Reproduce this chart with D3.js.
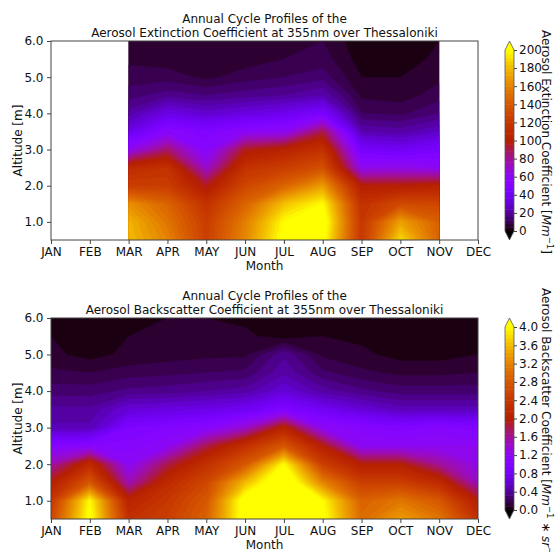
<!DOCTYPE html>
<html>
<head>
<meta charset="utf-8">
<script src="https://cdn.jsdelivr.net/npm/d3@7"></script>
<style>
  body { margin: 0; background: #fff; }
  svg { display: block; font-family: "DejaVu Sans", sans-serif; }
</style>
</head>
<body>
<svg id="chart" width="557" height="552"></svg>
<script>
// months on the x axis, altitude levels (km) of every profile, bottom to top
var months = ["JAN", "FEB", "MAR", "APR", "MAY", "JUN", "JUL", "AUG", "SEP", "OCT", "NOV", "DEC"];
var altitudes = [0.5, 1.0, 1.5, 2.0, 2.5, 3.0, 3.5, 4.0, 4.5, 5.0, 5.5, 6.0];
var altitudeTicks = [1.0, 2.0, 3.0, 4.0, 5.0, 6.0];

// extinction profiles only exist from MAR to NOV (Mm^-1)
var extinctionMonths = ["MAR", "APR", "MAY", "JUN", "JUL", "AUG", "SEP", "OCT", "NOV"];
var extinction = [
  [180, 178, 165, 125, 110, 62, 36, 22, 14, 10, 7, 6],     // MAR
  [160, 154, 146, 124, 116, 86, 56, 36, 18, 10, 6, 6],     // APR
  [126, 124, 116, 96, 70, 54, 50, 30, 16, 7, 4, 4],        // MAY
  [162, 158, 146, 130, 116, 96, 58, 34, 18, 10, 6, 5],     // JUN
  [205, 200, 182, 146, 124, 104, 60, 38, 20, 12, 8, 6],    // JUL
  [205, 210, 200, 170, 136, 116, 90, 46, 24, 14, 10, 8],   // AUG
  [120, 120, 116, 100, 62, 44, 24, 12, 7, 4, 2, 1],        // SEP
  [190, 172, 132, 100, 64, 40, 22, 11, 6, 4, 2, 0],        // OCT
  [146, 144, 130, 104, 60, 46, 28, 16, 10, 7, 5, 4]        // NOV
];
var extinctionTicks = [0, 20, 40, 60, 80, 100, 120, 140, 160, 180, 200];

// backscatter profiles, all twelve months (Mm^-1 sr^-1)
var backscatter = [
  [2.6, 2.4, 2.0, 1.52, 1.08, 0.5, 0.42, 0.28, 0.18, 0.1, 0.08, 0.08],    // JAN
  [4.1, 4.0, 2.8, 2.2, 1.12, 0.5, 0.42, 0.28, 0.16, 0.05, 0.07, 0.06],    // FEB
  [2.3, 2.1, 1.5, 1.2, 1.08, 0.96, 0.64, 0.34, 0.2, 0.1, 0.08, 0.06],     // MAR
  [2.5, 2.4, 2.2, 1.8, 1.2, 1.04, 0.68, 0.36, 0.22, 0.12, 0.1, 0.08],     // APR
  [2.9, 2.8, 2.6, 2.3, 1.8, 1.1, 0.72, 0.4, 0.24, 0.14, 0.1, 0.08],       // MAY
  [4.2, 4.2, 3.6, 2.8, 2.3, 1.4, 0.8, 0.44, 0.26, 0.14, 0.1, 0.06],       // JUN
  [4.4, 4.4, 4.4, 4.0, 2.8, 2.08, 1.0, 0.64, 0.46, 0.38, 0.04, 0.0],      // JUL
  [4.1, 4.0, 3.2, 2.5, 2.0, 1.2, 0.8, 0.44, 0.26, 0.14, 0.08, 0.06],      // AUG
  [3.0, 2.9, 2.5, 2.0, 1.2, 1.08, 0.64, 0.34, 0.18, 0.1, 0.06, 0.05],     // SEP
  [3.4, 3.1, 2.5, 2.0, 1.2, 1.0, 0.52, 0.28, 0.14, 0.05, 0.0, 0.0],       // OCT
  [3.1, 2.8, 2.2, 1.6, 1.2, 1.08, 0.52, 0.28, 0.14, 0.05, 0.0, 0.0],      // NOV
  [2.3, 2.0, 1.44, 1.28, 1.2, 1.0, 0.52, 0.28, 0.16, 0.08, 0.02, 0.0]     // DEC
];
var backscatterTicks = [0.0, 0.4, 0.8, 1.2, 1.6, 2.0, 2.4, 2.8, 3.2, 3.6, 4.0];

var svg = d3.select("#chart");

// matplotlib "gnuplot" colormap
function gnuplot(t) {
  t = Math.max(0, Math.min(1, t));
  var r = Math.sqrt(t), g = t * t * t, b = Math.max(0, Math.sin(2 * Math.PI * t));
  return d3.rgb(r * 255, g * 255, b * 255).formatHex();
}

function bandColor(levels, i) {
  var lo = levels[0], hi = levels[levels.length - 1];
  if (i >= levels.length - 1) return gnuplot(1);
  return gnuplot(((levels[i] + levels[i + 1]) / 2 - lo) / (hi - lo));
}

function drawPanel(p) {
  var g = svg.append("g");
  var x = d3.scaleLinear().domain([0, months.length - 1]).range([p.x0, p.x1]);
  var y = d3.scaleLinear().domain([altitudes[0], altitudes[altitudes.length - 1]]).range([p.y1, p.y0]);

  var nx = p.data.length, ny = altitudes.length;
  var first = months.indexOf(p.firstMonth);
  var values = [];
  for (var j = 0; j < ny; j++)
    for (var i = 0; i < nx; i++) values.push(p.data[i][j]);

  var levels = d3.range(0, p.levelCount).map(function(k) { return k * p.vmax / (p.levelCount - 1); });
  var contours = d3.contours().size([nx, ny]).thresholds(levels)(values);
  var step = altitudes[1] - altitudes[0];
  var proj = d3.geoTransform({
    point: function(px, py) {
      this.stream.point(x(first + px - 0.5), y(altitudes[0] + (py - 0.5) * step));
    }
  });
  var path = d3.geoPath(proj);

  svg.append("clipPath").attr("id", p.id + "-clip")
    .append("rect")
    .attr("x", x(first)).attr("y", p.y0)
    .attr("width", x(first + nx - 1) - x(first)).attr("height", p.y1 - p.y0);

  var field = g.append("g").attr("clip-path", "url(#" + p.id + "-clip)");
  field.append("rect")
    .attr("x", x(first)).attr("y", p.y0)
    .attr("width", x(first + nx - 1) - x(first)).attr("height", p.y1 - p.y0)
    .attr("fill", gnuplot(0));
  field.selectAll("path")
    .data(contours)
    .join("path")
    .attr("d", path)
    .attr("fill", function(d, i) { return bandColor(levels, i); })
    .attr("stroke", function(d, i) { return bandColor(levels, i); })
    .attr("stroke-width", 0.3);

  // axes
  var xAxis = g.append("g")
    .attr("transform", "translate(0," + p.y1 + ")")
    .call(d3.axisBottom(x).tickValues(d3.range(months.length))
      .tickFormat(function(d) { return months[d]; })
      .tickSize(4).tickSizeOuter(0).tickPadding(3.5));
  var yAxis = g.append("g")
    .attr("transform", "translate(" + p.x0 + ",0)")
    .call(d3.axisLeft(y).tickValues(altitudeTicks).tickFormat(d3.format(".1f"))
      .tickSize(4).tickSizeOuter(0).tickPadding(3.5));
  [xAxis, yAxis].forEach(function(a) {
    a.select(".domain").remove();
    a.selectAll("line").attr("stroke", "#444");
    a.selectAll("text").attr("font-size", 12).attr("fill", "#111")
      .attr("font-family", "DejaVu Sans");
  });

  g.append("rect")
    .attr("x", p.x0).attr("y", p.y0)
    .attr("width", p.x1 - p.x0).attr("height", p.y1 - p.y0)
    .attr("fill", "none").attr("stroke", "#444").attr("stroke-width", 1);

  var cx = (p.x0 + p.x1) / 2;
  g.append("text").attr("x", cx).attr("y", p.y0 - 18.5)
    .attr("text-anchor", "middle").attr("font-size", 12).attr("fill", "#111")
    .text(p.title[0]);
  g.append("text").attr("x", cx).attr("y", p.y0 - 4.5)
    .attr("text-anchor", "middle").attr("font-size", 12).attr("fill", "#111")
    .text(p.title[1]);
  g.append("text").attr("x", cx).attr("y", p.y1 + 30)
    .attr("text-anchor", "middle").attr("font-size", 12).attr("fill", "#111")
    .text("Month");
  g.append("text")
    .attr("transform", "translate(21.5," + ((p.y0 + p.y1) / 2) + ") rotate(-90)")
    .attr("text-anchor", "middle").attr("font-size", 12).attr("fill", "#111")
    .text("Altitude [m]");

  drawColorbar(p, levels);
}

function drawColorbar(p, levels) {
  var bx0 = 505, bx1 = 514, ext = 9;
  var g = svg.append("g");
  var cy = d3.scaleLinear().domain([0, p.vmax]).range([p.y1 - ext, p.y0 + ext]);

  g.selectAll("rect.band")
    .data(levels.slice(0, -1))
    .join("rect")
    .attr("class", "band")
    .attr("x", bx0)
    .attr("width", bx1 - bx0)
    .attr("y", function(d, i) { return cy(levels[i + 1]); })
    .attr("height", function(d, i) { return cy(levels[i]) - cy(levels[i + 1]) + 0.5; })
    .attr("fill", function(d, i) { return bandColor(levels, i); });

  var xm = (bx0 + bx1) / 2;
  g.append("path")
    .attr("d", "M" + bx0 + "," + cy(p.vmax) + "L" + xm + "," + p.y0 + "L" + bx1 + "," + cy(p.vmax) + "Z")
    .attr("fill", gnuplot(1));
  g.append("path")
    .attr("d", "M" + bx0 + "," + cy(0) + "L" + xm + "," + p.y1 + "L" + bx1 + "," + cy(0) + "Z")
    .attr("fill", gnuplot(0));
  g.append("path")
    .attr("d", "M" + bx0 + "," + cy(0) + "L" + bx0 + "," + cy(p.vmax) + "L" + xm + "," + p.y0 +
      "L" + bx1 + "," + cy(p.vmax) + "L" + bx1 + "," + cy(0) + "L" + xm + "," + p.y1 + "Z")
    .attr("fill", "none").attr("stroke", "#555").attr("stroke-width", 0.8);

  var axis = g.append("g")
    .attr("transform", "translate(" + bx1 + ",0)")
    .call(d3.axisRight(cy).tickValues(p.ticks).tickFormat(p.tickFormat)
      .tickSize(3).tickSizeOuter(0).tickPadding(2));
  axis.select(".domain").remove();
  axis.selectAll("line").attr("stroke", "#444");
  axis.selectAll("text").attr("font-size", 12).attr("fill", "#111")
    .attr("font-family", "DejaVu Sans");

  var label = g.append("text")
    .attr("transform", "translate(541.5," + p.labelTop + ") rotate(90)")
    .attr("font-size", 12).attr("fill", "#111");
  p.label.forEach(function(part) {
    var t = label.append("tspan").text(part.text);
    if (part.italic) t.attr("font-style", "italic");
    if (part.sup) t.attr("font-size", 8.5).attr("dy", -5);
    if (part.down) t.attr("dy", 5);
  });
}

drawPanel({
  id: "ext",
  x0: 51, x1: 478, y0: 41, y1: 240,
  data: extinction,
  firstMonth: extinctionMonths[0],
  vmax: 200,
  levelCount: 51,
  ticks: extinctionTicks,
  tickFormat: d3.format("d"),
  labelTop: 30,
  title: ["Annual Cycle Profiles of the", "Aerosol Extinction Coefficient at 355nm over Thessaloniki"],
  label: [
    { text: "Aerosol Extinction Coefficient [" },
    { text: "Mm", italic: true },
    { text: "\u22121", sup: true },
    { text: "]", down: true }
  ]
});

drawPanel({
  id: "bsc",
  x0: 51, x1: 478, y0: 318, y1: 519,
  data: backscatter,
  firstMonth: months[0],
  vmax: 4.0,
  levelCount: 51,
  ticks: backscatterTicks,
  tickFormat: d3.format(".1f"),
  labelTop: 288,
  title: ["Annual Cycle Profiles of the", "Aerosol Backscatter Coefficient at 355nm over Thessaloniki"],
  label: [
    { text: "Aerosol Backscatter Coefficient [" },
    { text: "Mm", italic: true },
    { text: "\u22121", sup: true },
    { text: " \u2217 ", down: true },
    { text: "sr", italic: true },
    { text: "\u22121", sup: true },
    { text: "]", down: true }
  ]
});
</script>
</body>
</html>
